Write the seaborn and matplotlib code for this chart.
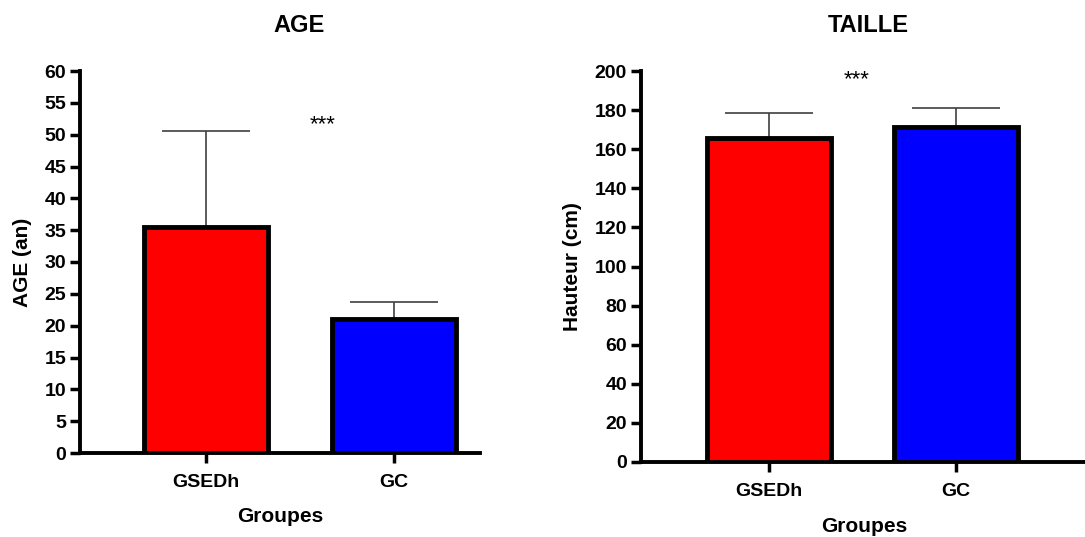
import matplotlib
matplotlib.use("Agg")
import matplotlib.pyplot as plt
import seaborn as sns
import pandas as pd

groups = ["GSEDh", "GC"]
colors = ["#FF0000", "#0000FF"]
age_mean = [35.5, 21.1]
age_err = [15.1, 2.6]
taille_mean = [165.8, 171.4]
taille_err = [12.8, 9.6]

sns.set_theme(style="white")
plt.rcParams["font.family"] = ["Liberation Sans", "DejaVu Sans"]
plt.rcParams["text.color"] = "black"
plt.rcParams["axes.labelcolor"] = "black"
plt.rcParams["xtick.color"] = "black"
plt.rcParams["ytick.color"] = "black"

fig = plt.figure(figsize=(10.85, 5.37), dpi=100)
ax1 = fig.add_axes([80/1085, (537-453)/537, 400/1085, 382/537])
ax2 = fig.add_axes([641/1085, (537-462)/537, 446/1085, 391/537])


def draw(ax, means, errs, title, ylabel, ymax, step, star_xy, xlim, tx):
    df = pd.DataFrame({"g": groups, "v": means})
    sns.barplot(data=df, x="g", y="v", hue="g", palette=colors, legend=False,
                saturation=1, width=0.66, edgecolor="black", linewidth=3.5,
                ax=ax, zorder=3)
    ax.errorbar(range(len(groups)), means, yerr=[[0]*len(errs), errs], fmt="none",
                ecolor="#404040", elinewidth=1.2, capsize=32, capthick=1.2, zorder=2)
    ax.set_ylim(0, ymax)
    ax.set_xlim(*xlim)
    ax.set_yticks(range(0, ymax + 1, step))
    ax.set_title(title, fontsize=17, fontweight="bold", pad=28, color="black", x=tx)
    ax.set_ylabel(ylabel, fontsize=15, fontweight="bold", labelpad=9)
    ax.set_xlabel("Groupes", fontsize=15, fontweight="bold", labelpad=12)
    for s in ["top", "right"]:
        ax.spines[s].set_visible(False)
    for s in ["left", "bottom"]:
        ax.spines[s].set_linewidth(2.8)
        ax.spines[s].set_color("black")
    ax.tick_params(axis="both", direction="out", length=7, width=2.5, colors="black",
                   labelsize=14, bottom=True, left=True)
    ax.tick_params(axis="x", pad=8)
    ax.tick_params(axis="y", pad=3)
    for lab in ax.get_xticklabels() + ax.get_yticklabels():
        lab.set_fontweight("bold")
    ax.text(star_xy[0], star_xy[1], "***", fontsize=16, ha="center", va="center",
            clip_on=False, color="black")
    ax.set_facecolor("white")


draw(ax1, age_mean, age_err, "AGE", "AGE (an)", 60, 5, (0.62, 51.5), (-0.67, 1.46), 0.548)
draw(ax2, taille_mean, taille_err, "TAILLE", "Hauteur (cm)", 200, 20, (0.47, 195.5), (-0.685, 1.70), 0.509)

fig.savefig("out.png", dpi=100, facecolor="white")
